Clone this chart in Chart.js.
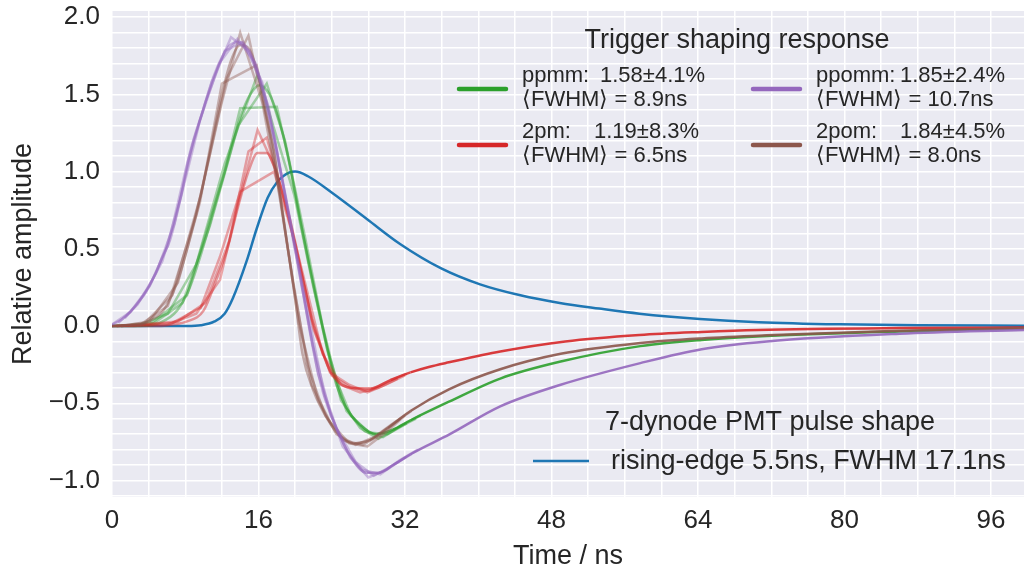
<!DOCTYPE html>
<html>
<head>
<meta charset="utf-8">
<script src="https://cdn.jsdelivr.net/npm/chart.js@4.4.1/dist/chart.umd.min.js"></script>
<style>
  body { margin: 0; background: #fff; }
  #wrap { width: 1024px; height: 574px; }
</style>
</head>
<body>
<div id="wrap"><canvas id="myChart"></canvas></div>
<script>
// ticks
const xTicks = [0, 4, 8, 12, 16, 20, 24, 28, 32, 36, 40, 44, 48, 52, 56, 60, 64, 68, 72, 76, 80, 84, 88, 92, 96];
const xLabels = [0, 16, 32, 48, 64, 80, 96];
const yTicks = [-1.1, -1.0, -0.9, -0.8, -0.7, -0.6, -0.5, -0.4, -0.3, -0.2, -0.1, 0.0,
  0.1, 0.2, 0.3, 0.4, 0.5, 0.6, 0.7, 0.8, 0.9, 1.0, 1.1, 1.2, 1.3, 1.4, 1.5, 1.6, 1.7, 1.8, 1.9, 2.0];
const yLabels = [-1.0, -0.5, 0.0, 0.5, 1.0, 1.5, 2.0];

// PMT pulse shape (time ns, amplitude)
const pmtPulse = [[0,0],[8.2,0],[9.7,0.005],[11.2,0.03],[12.3,0.08],[13.2,0.18],[14.7,0.42],[15.8,0.63],[17.0,0.83],[18.0,0.93],[19.4,0.995],[20.0,1.0],[21.4,0.97],[24.1,0.86],[27.9,0.69],[31.5,0.53],[35.9,0.375],[40.2,0.27],[44.6,0.199],[48.9,0.149],[53.2,0.113],[57.6,0.08],[64.2,0.046],[70.6,0.025],[79.4,0.011],[88.1,0.005],[99.7,0.002]];

// ppmm (green)
const ppmmMain = [[0,0],[3.1,0],[5.2,0.02],[7.1,0.1],[8.5,0.25],[9.8,0.48],[11.4,0.81],[12.9,1.12],[14.0,1.35],[15.1,1.5],[16.1,1.56],[17.2,1.5],[18.0,1.38],[19.1,1.13],[20.5,0.70],[22.0,0.27],[23.6,-0.16],[24.5,-0.38],[25.6,-0.53],[27.1,-0.64],[28.9,-0.70],[30.7,-0.67],[32.6,-0.61],[36.8,-0.49],[42.4,-0.34],[49,-0.23],[57.7,-0.13],[64.4,-0.09],[71.5,-0.065],[86,-0.035],[99.7,-0.015]];
const ppmmA = [[0,0],[4.1,0.01],[8.2,0.2],[12.3,1.0],[14,1.41],[18,1.42],[19.4,1.05],[21.5,0.4],[23.5,-0.15],[25.6,-0.55],[27.6,-0.68],[29.6,-0.72],[31.7,-0.64],[33.7,-0.58]];
const ppmmB = [[0.5,0],[3.1,0.01],[6.1,0.08],[9.2,0.4],[12.3,1.05],[15.9,1.63],[19.9,0.85],[22,0.25],[24,-0.28],[26.1,-0.58],[28.1,-0.69],[30.1,-0.7],[32.2,-0.63]];
const ppmmC = [[1,0],[4.6,0.02],[7.7,0.15],[10.7,0.65],[13.8,1.3],[16.9,1.57],[18.9,1.2],[21,0.6],[23,0.0],[25,-0.48],[27.1,-0.66],[29.1,-0.73],[31.2,-0.66],[33.2,-0.6]];

// 2pm (red)
const twoPmMain = [[0,0],[5.1,0],[6.6,0.01],[8.2,0.03],[10.0,0.1],[11.4,0.3],[12.6,0.5],[13.8,0.78],[14.9,1.0],[15.9,1.12],[16.9,1.12],[18.0,0.98],[19.4,0.70],[21.0,0.27],[22.0,0.0],[22.7,-0.12],[23.5,-0.25],[24.5,-0.35],[26.1,-0.40],[28.2,-0.405],[30.4,-0.35],[32.6,-0.30],[34.6,-0.265],[36.8,-0.235],[42.4,-0.165],[49.5,-0.10],[57.6,-0.058],[64.4,-0.038],[70.5,-0.025],[86,-0.013],[99.7,-0.01]];
const twoPmA = [[0,0],[6.1,0.01],[9.2,0.08],[11.8,0.3],[13.8,0.8],[15.9,1.27],[18,1.0],[19.9,0.55],[22,-0.02],[24,-0.32],[26.1,-0.4],[28.1,-0.42],[30.1,-0.36],[32.2,-0.31]];
const twoPmB = [[0.5,0],[6.6,0.02],[9.7,0.12],[11.8,0.45],[14,0.87],[17.7,1.0],[19.7,0.6],[21.8,0.05],[23.8,-0.3],[25.9,-0.38],[27.9,-0.43],[29.9,-0.38],[32,-0.32]];
const twoPmC = [[1,0],[7.2,0.03],[10.2,0.15],[12.8,0.55],[14.9,1.13],[16.9,1.22],[18.9,0.8],[21,0.3],[23,-0.18],[25,-0.38],[27.1,-0.43],[29.1,-0.4],[31.2,-0.34]];

// ppomm (purple)
const ppommMain = [[0,0.01],[1,0.04],[2,0.09],[3.1,0.17],[4.2,0.27],[5.6,0.46],[6.3,0.55],[7.5,0.83],[8.5,1.12],[10.0,1.41],[11.0,1.6],[12.0,1.74],[12.9,1.82],[13.9,1.84],[14.9,1.79],[15.8,1.67],[16.9,1.45],[18.0,1.13],[19.4,0.70],[20.7,0.27],[22.0,-0.16],[23.0,-0.42],[24.5,-0.66],[26.1,-0.85],[27.8,-0.95],[29.1,-0.95],[30.7,-0.9],[32.6,-0.83],[36.9,-0.70],[42.4,-0.52],[49,-0.38],[57.7,-0.24],[64.4,-0.15],[71.5,-0.1],[86,-0.05],[99.7,-0.025]];
const ppommA = [[0,0.01],[2,0.09],[4.1,0.26],[6.1,0.52],[8.2,1.05],[10.2,1.45],[12.3,1.78],[14.3,1.84],[16.4,1.58],[18.4,1.0],[20.4,0.38],[22.5,-0.31],[24.5,-0.66],[26.6,-0.88],[28.6,-0.97],[30.7,-0.9],[32.7,-0.83]];
const ppommB = [[0.7,0.02],[2.8,0.14],[4.8,0.34],[6.8,0.66],[8.9,1.2],[10.9,1.58],[13,1.87],[15,1.78],[17.1,1.42],[19.1,0.8],[21.2,0.15],[23.2,-0.45],[25.2,-0.78],[27.3,-0.93],[29.3,-0.96],[31.4,-0.87],[33.4,-0.8]];
const ppommC = [[1.4,0.05],[3.5,0.2],[5.5,0.42],[7.6,0.85],[9.6,1.33],[11.7,1.7],[13.7,1.86],[15.7,1.7],[17.8,1.2],[19.8,0.55],[21.9,-0.12],[23.9,-0.58],[26,-0.85],[28,-0.98],[30,-0.93],[32.1,-0.85]];

// 2pom (brown)
const twoPomMain = [[0,0],[2,0],[3.4,0.01],[4.6,0.05],[5.6,0.1],[7.1,0.28],[8.2,0.5],[9.6,0.83],[10.7,1.13],[12.0,1.5],[13.0,1.72],[14.0,1.82],[14.9,1.8],[15.8,1.66],[16.9,1.35],[17.7,1.13],[18.7,0.70],[19.8,0.27],[20.8,-0.18],[22.0,-0.42],[23.5,-0.6],[25,-0.72],[26.4,-0.76],[28.1,-0.74],[30.1,-0.66],[32.6,-0.55],[36.8,-0.41],[42.4,-0.28],[49,-0.18],[57.7,-0.11],[64.4,-0.08],[71.5,-0.06],[86,-0.03],[99.7,-0.015]];
const twoPomA = [[0,0],[3.1,0.01],[6.1,0.13],[9.2,0.72],[12,1.45],[14,1.90],[16.4,1.45],[18.4,0.82],[20.4,0.02],[22.5,-0.48],[24.5,-0.7],[26.6,-0.77],[28.6,-0.72],[30.7,-0.63],[32.7,-0.55]];
const twoPomB = [[0.5,0],[3.6,0.02],[6.6,0.2],[9.7,0.85],[12.5,1.6],[14.9,1.88],[17.2,1.25],[19.2,0.5],[21.3,-0.25],[23.3,-0.58],[25.3,-0.74],[27.4,-0.77],[29.4,-0.7],[31.5,-0.6]];
const twoPomC = [[1,0],[4.1,0.03],[7.2,0.28],[9.6,0.8],[12,1.57],[15.8,1.69],[17.7,1.13],[19.7,0.3],[21.8,-0.38],[23.8,-0.62],[25.9,-0.76],[27.9,-0.78],[29.9,-0.69],[32,-0.58]];

// legend texts
const triggerTitle = "Trigger shaping response";
const shapers = [
  { name: "ppmm:", value: "1.58±4.1%", fwhm: "⟨FWHM⟩ = 8.9ns", color: "rgb(44, 160, 44)" },
  { name: "2pm:", value: "1.19±8.3%", fwhm: "⟨FWHM⟩ = 6.5ns", color: "rgb(214, 39, 40)" },
  { name: "ppomm:", value: "1.85±2.4%", fwhm: "⟨FWHM⟩ = 10.7ns", color: "rgb(148, 103, 189)" },
  { name: "2pom:", value: "1.84±4.5%", fwhm: "⟨FWHM⟩ = 8.0ns", color: "rgb(140, 86, 75)" }
];
const pmtTitle = "7-dynode PMT pulse shape";
const pmtLabel = "rising-edge 5.5ns, FWHM 17.1ns";

const FONT = '"Liberation Sans", Arial, sans-serif';
const TEXT = "#262626";

function pts(arr) {
  return arr.map(p => ({ x: p[0], y: p[1] }));
}
function rgba(c, a) {
  return c.replace("rgb(", "rgba(").replace(")", ", " + a + ")");
}
// the pulse part is a bundle of see-through traces, the tail looks solid
function tailAlpha(x) {
  if (x < 22) return 0.45;
  if (x > 32) return 0.9;
  return 0.45 + (x - 22) * 0.045;
}
function mainLine(arr, color) {
  return {
    data: pts(arr),
    borderColor: color,
    borderWidth: 2.5,
    pointRadius: 0,
    cubicInterpolationMode: "monotone",
    segment: {
      borderColor: ctx => rgba(color, tailAlpha(ctx.p0.parsed.x).toFixed(2))
    }
  };
}
function sampleLine(arr, color) {
  return {
    data: pts(arr),
    borderColor: rgba(color, 0.4),
    borderWidth: 2.5,
    pointRadius: 0,
    tension: 0
  };
}

const green = shapers[0].color, red = shapers[1].color, purple = shapers[2].color, brown = shapers[3].color;

const bgPlugin = {
  id: "bg",
  beforeDraw(chart) {
    const a = chart.chartArea, c = chart.ctx;
    c.save();
    c.fillStyle = "#EAEAF2";
    c.fillRect(a.left, a.top, a.right - a.left, a.bottom - a.top);
    c.restore();
  }
};

const legendPlugin = {
  id: "legendText",
  afterDraw(chart) {
    const c = chart.ctx;
    c.save();
    c.fillStyle = TEXT;
    c.textBaseline = "middle";
    c.lineCap = "round";
    c.font = "27px " + FONT;
    c.textAlign = "center";
    c.fillText(triggerTitle, 737, 41);
    c.textAlign = "left";
    c.font = "22px " + FONT;
    const colX = [459, 753];
    const rowY = [89, 145];
    const valX = [[600, 594], [900, 900]];
    shapers.forEach((s, i) => {
      const col = i < 2 ? 0 : 1, row = i % 2;
      const x = colX[col], y = rowY[row];
      c.strokeStyle = s.color;
      c.lineWidth = 4.5;
      c.beginPath();
      c.moveTo(x, y);
      c.lineTo(x + 47, y);
      c.stroke();
      c.fillText(s.name, x + 63, y - 13);
      c.fillText(s.value, valX[col][row], y - 13);
      c.fillText(s.fwhm, x + 63, y + 11);
    });
    c.font = "27px " + FONT;
    c.textAlign = "center";
    c.fillText(pmtTitle, 770, 423);
    c.strokeStyle = "rgb(31, 119, 180)";
    c.lineWidth = 2.5;
    c.lineCap = "butt";
    c.beginPath();
    c.moveTo(533, 461);
    c.lineTo(589, 461);
    c.stroke();
    c.textAlign = "left";
    c.fillText(pmtLabel, 611, 462);
    c.restore();
  }
};

const config = {
  type: "line",
  data: {
    datasets: [
      sampleLine(ppommA, purple), sampleLine(ppommB, purple), sampleLine(ppommC, purple), mainLine(ppommMain, purple),
      sampleLine(twoPomA, brown), sampleLine(twoPomB, brown), sampleLine(twoPomC, brown), mainLine(twoPomMain, brown),
      sampleLine(twoPmA, red), sampleLine(twoPmB, red), sampleLine(twoPmC, red), mainLine(twoPmMain, red),
      sampleLine(ppmmA, green), sampleLine(ppmmB, green), sampleLine(ppmmC, green), mainLine(ppmmMain, green),
      {
        data: pts(pmtPulse),
        borderColor: "rgb(31, 119, 180)",
        borderWidth: 2.5,
        pointRadius: 0,
        cubicInterpolationMode: "monotone"
      }
    ]
  },
  options: {
    responsive: true,
    maintainAspectRatio: false,
    animation: false,
    devicePixelRatio: 1,
    layout: { padding: { top: 11, right: 0, bottom: 0, left: 0 } },
    plugins: {
      legend: { display: false },
      tooltip: { enabled: false }
    },
    scales: {
      x: {
        type: "linear",
        min: 0,
        max: 99.6,
        border: { display: false },
        grid: { color: "#ffffff", lineWidth: 1.5, drawTicks: false },
        afterBuildTicks: s => { s.ticks = xTicks.map(v => ({ value: v })); },
        afterFit: s => { s.height = 77; s.paddingLeft = 0; s.paddingRight = 0; },
        ticks: {
          autoSkip: false,
          maxRotation: 0,
          padding: 8,
          color: TEXT,
          font: { size: 26, family: FONT },
          callback: v => xLabels.includes(v) ? String(v) : ""
        },
        title: {
          display: true,
          text: "Time / ns",
          color: TEXT,
          font: { size: 27, family: FONT },
          padding: { top: 0, bottom: 1 }
        }
      },
      y: {
        type: "linear",
        min: -1.107,
        max: 2.04,
        border: { display: false },
        grid: { color: "#ffffff", lineWidth: 1.5, drawTicks: false },
        afterBuildTicks: s => { s.ticks = yTicks.map(v => ({ value: v })); },
        afterFit: s => { s.width = 112; s.paddingTop = 0; s.paddingBottom = 0; },
        ticks: {
          autoSkip: false,
          padding: 12,
          color: TEXT,
          font: { size: 26, family: FONT },
          callback: v => {
            const hit = yLabels.find(l => Math.abs(l - v) < 1e-6);
            if (hit === undefined) return "";
            return hit < 0 ? "\u2212" + Math.abs(hit).toFixed(1) : hit.toFixed(1);
          }
        },
        title: {
          display: true,
          text: "Relative amplitude",
          color: TEXT,
          font: { size: 27, family: FONT },
          padding: { top: 7, bottom: 0 }
        }
      }
    }
  },
  plugins: [bgPlugin, legendPlugin]
};

var myChart = new Chart(document.getElementById("myChart"), config);
</script>
</body>
</html>
